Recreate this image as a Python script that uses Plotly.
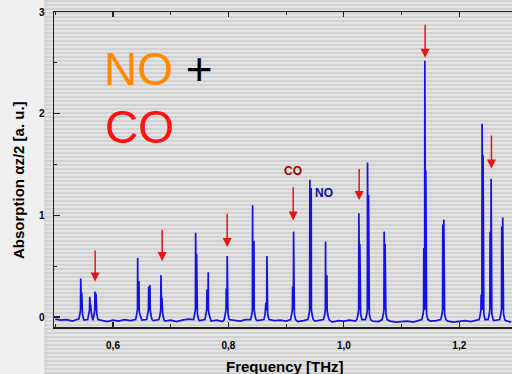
import plotly.graph_objects as go

# ---------------- data ----------------
# absorption line components (frequency in THz, peak height in a.u.)
line_freq = [0.5441, 0.5458, 0.5597, 0.5614, 0.5688, 0.5706,
             0.6428, 0.6450, 0.6618, 0.6641, 0.6831, 0.6848,
             0.7432, 0.7449, 0.7628, 0.7650, 0.7962, 0.7979,
             0.8419, 0.8442, 0.8649, 0.8667, 0.9112, 0.9129,
             0.9411, 0.9434, 0.9683, 0.9706, 1.0260, 1.0277,
             1.0410, 1.0428, 1.0698, 1.0715, 1.1385, 1.1403, 1.1420,
             1.1714, 1.1732, 1.2378, 1.2395, 1.2412, 1.2533, 1.2551,
             1.2735, 1.2753]
line_height = [0.38, 0.24, 0.20, 0.12, 0.25, 0.23,
               0.58, 0.355, 0.30, 0.315, 0.41, 0.19,
               0.83, 0.62, 0.27, 0.44, 0.28, 0.60,
               1.10, 0.75, 0.14, 0.60, 0.30, 0.84,
               1.35, 1.27, 0.74, 0.41, 1.02, 0.72,
               1.52, 1.20, 0.84, 0.72, 0.68, 2.52, 1.44,
               0.91, 0.96, 0.22, 1.90, 1.59, 0.84, 1.36,
               0.89, 0.98]

# noisy baseline between the lines
baseline_freq = [0.50, 0.51, 0.52, 0.53, 0.54, 0.55, 0.56, 0.57, 0.58, 0.59,
                 0.60, 0.61, 0.62, 0.63, 0.64, 0.65, 0.66, 0.67, 0.68, 0.69,
                 0.70, 0.71, 0.72, 0.73, 0.74, 0.75, 0.76, 0.77, 0.78, 0.79,
                 0.80, 0.81, 0.82, 0.83, 0.84, 0.85, 0.86, 0.87, 0.88, 0.89,
                 0.90, 0.91, 0.92, 0.93, 0.94, 0.95, 0.96, 0.97, 0.98, 0.99,
                 1.00, 1.01, 1.02, 1.03, 1.04, 1.05, 1.06, 1.07, 1.08, 1.09,
                 1.10, 1.11, 1.12, 1.13, 1.14, 1.15, 1.16, 1.17, 1.18, 1.19,
                 1.20, 1.21, 1.22, 1.23, 1.24, 1.25, 1.26, 1.27, 1.28, 1.29]
baseline_val = [-0.02, -0.03, -0.025, -0.04, -0.02, -0.03, -0.02, -0.03, -0.035, -0.045,
                -0.03, -0.04, -0.025, -0.035, -0.02, -0.03, -0.02, -0.035, -0.03, -0.04,
                -0.03, -0.045, -0.03, -0.02, -0.03, -0.035, -0.025, -0.04, -0.03, -0.045,
                -0.035, -0.03, -0.04, -0.025, -0.03, -0.035, -0.03, -0.04, -0.035, -0.03,
                -0.04, -0.03, -0.045, -0.035, -0.03, -0.04, -0.03, -0.045, -0.05, -0.035,
                -0.04, -0.03, -0.04, -0.035, -0.03, -0.04, -0.045, -0.03, -0.04, -0.05,
                -0.045, -0.04, -0.05, -0.035, -0.03, -0.04, -0.035, -0.045, -0.04, -0.05,
                -0.04, -0.035, -0.045, -0.03, -0.04, -0.03, -0.035, -0.04, -0.035, -0.05]

# red arrows marking the CO lines
co_arrow_freq = [0.5691, 0.6852, 0.7978, 0.9122, 1.0265, 1.1408, 1.2557]
co_arrow_tip = [0.35, 0.55, 0.69, 0.95, 1.15, 2.55, 1.46]
co_arrow_tail = [0.67, 0.87, 1.03, 1.29, 1.47, 2.89, 1.80]

x_ticks = [0.6, 0.8, 1.0, 1.2]
x_tick_text = ["0,6", "0,8", "1,0", "1,2"]
y_ticks = [0, 1, 2, 3]

# ---------------- build the spectrum trace ----------------
pairs = sorted(zip(line_freq, line_height))
groups = []
for f, h in pairs:
    if groups and f - groups[-1][-1][0] < 0.004:
        groups[-1].append((f, h))
    else:
        groups.append([(f, h)])

pts = []
for bf, bv in zip(baseline_freq, baseline_val):
    if all(not (g[0][0] - 0.004 < bf < g[-1][0] + 0.004) for g in groups):
        pts.append((bf, bv))
for g in groups:
    left, right = g[0][0], g[-1][0]
    pts.append((left - 0.0035, -0.025))
    pts.append((left - 0.0013, 0.03))
    for f, h in g:
        pts.append((f - 0.0004, 0.07))
        pts.append((f, h))
        pts.append((f + 0.0004, 0.07))
    pts.append((right + 0.0013, 0.03))
    pts.append((right + 0.0035, -0.025))
pts.sort()
xs = [p[0] for p in pts]
ys = [p[1] for p in pts]

fig = go.Figure()
fig.add_trace(go.Scatter(x=xs, y=ys, mode="lines",
                         line=dict(color="#1212e8", width=1.7),
                         hoverinfo="skip", showlegend=False))

# ---------------- layout ----------------
L, R, T, B = 54, 0, 12, 47
W, H = 512, 374
pw, ph = W - L - R, H - T - B


def px_x(p):
    return (p - L) / pw


def px_y(p):
    return (H - B - p) / ph


shapes = []
# left light panel
shapes.append(dict(type="rect", xref="paper", yref="paper",
                   x0=px_x(0), x1=px_x(45), y0=px_y(H), y1=px_y(0),
                   fillcolor="#f0f0f0", line=dict(width=0), layer="below"))
# scan-line stripes
for i in range(95):
    yy = px_y(1 + i * 4)
    shapes.append(dict(type="line", xref="paper", yref="paper",
                       x0=px_x(45), x1=1.0, y0=yy, y1=yy,
                       line=dict(color="#cdcdcd", width=1.6), layer="below"))
shapes.append(dict(type="line", xref="paper", yref="paper",
                   x0=px_x(45), x1=px_x(45), y0=px_y(H), y1=px_y(0),
                   line=dict(color="#c8c8c8", width=1), layer="below"))

annotations = []
for f, tip, tail in zip(co_arrow_freq, co_arrow_tip, co_arrow_tail):
    annotations.append(dict(x=f, y=tip, ax=f, ay=tail, xref="x", yref="y",
                            axref="x", ayref="y", text="", showarrow=True,
                            arrowhead=2, arrowsize=1.2, arrowwidth=1.5,
                            arrowcolor="#e61414"))

big_font = dict(family="Liberation Sans, Arial", size=46, color="black")
annotations.append(dict(x=px_x(102), y=px_y(69), xref="paper", yref="paper",
                        xanchor="left", yanchor="middle", showarrow=False,
                        text='<span style="color:#ff8a00">NO</span> +',
                        font=big_font))
annotations.append(dict(x=px_x(103), y=px_y(127), xref="paper", yref="paper",
                        xanchor="left", yanchor="middle", showarrow=False,
                        text="CO", font=dict(family="Liberation Sans, Arial",
                                             size=46, color="#ff1010")))
annotations.append(dict(x=px_x(293), y=px_y(171), xref="paper", yref="paper",
                        xanchor="center", yanchor="middle", showarrow=False,
                        text="<b>CO</b>", font=dict(family="Liberation Sans, Arial",
                                                    size=12, color="#a00000")))
annotations.append(dict(x=px_x(323.5), y=px_y(192.5), xref="paper", yref="paper",
                        xanchor="center", yanchor="middle", showarrow=False,
                        text="<b>NO</b>", font=dict(family="Liberation Sans, Arial",
                                                    size=12, color="#10108a")))
annotations.append(dict(x=px_x(285), y=px_y(366), xref="paper", yref="paper",
                        xanchor="center", yanchor="middle", showarrow=False,
                        text="<b>Frequency [THz]</b>",
                        font=dict(family="Liberation Sans, Arial", size=15, color="black")))
annotations.append(dict(x=px_x(18), y=px_y(180), xref="paper", yref="paper",
                        xanchor="center", yanchor="middle", showarrow=False,
                        textangle=-90,
                        text="<b>Absorption αz/2 [a. u.]</b>",
                        font=dict(family="Liberation Sans, Arial", size=15, color="black")))

tick_font = dict(family="Liberation Sans, Arial", size=10, color="black", weight="bold")

fig.update_layout(
    width=W, height=H,
    margin=dict(l=L, r=R, t=T, b=B, pad=0),
    paper_bgcolor="#e4e4e4",
    plot_bgcolor="rgba(0,0,0,0)",
    shapes=shapes,
    annotations=annotations,
    showlegend=False,
    xaxis=dict(range=[0.4978, 1.2913], showgrid=False, zeroline=False,
               showline=True, linecolor="#222222", linewidth=1.5,
               mirror="ticks", ticks="inside", ticklen=5, tickwidth=1.2,
               tickcolor="#222222", tickvals=x_ticks, ticktext=x_tick_text,
               tickfont=tick_font, ticklabelstandoff=8,
               minor=dict(dtick=0.1, tick0=0, ticks="inside", ticklen=3,
                          tickwidth=1, tickcolor="#222222")),
    yaxis=dict(range=[-0.098, 3.0], showgrid=False, zeroline=False,
               showline=True, linecolor="#222222", linewidth=1.5,
               mirror=False, ticks="inside", ticklen=6, tickwidth=1.2,
               tickcolor="#222222", tickvals=y_ticks,
               tickfont=tick_font, ticklabelstandoff=6,
               minor=dict(dtick=0.5, tick0=0, ticks="inside", ticklen=3,
                          tickwidth=1, tickcolor="#222222")),
)

fig.write_html("out.html",
               config={"displayModeBar": False, "staticPlot": True},
               post_script="document.body.style.margin='0px';"
                           "document.body.style.overflow='hidden';")
